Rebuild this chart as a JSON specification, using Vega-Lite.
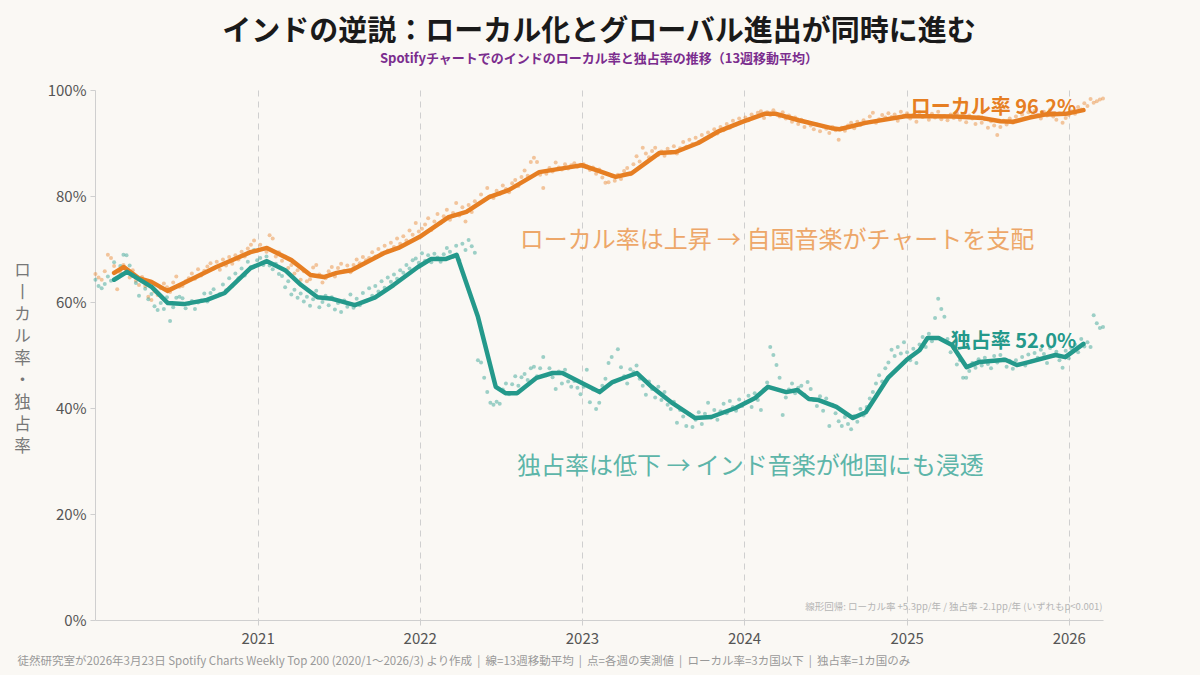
{
"$schema": "https://vega.github.io/schema/vega-lite/v6.json",
"width": 1008, "height": 530,
"autosize": {"type": "none"},
"padding": {"left": 95, "top": 90, "right": 97, "bottom": 55},
"background": "#faf8f4",
"config": {"view": {"stroke": null}, "font": "Noto Sans CJK JP"},
"title": {"text": "インドの逆説：ローカル化とグローバル進出が同時に進む", "subtitle": "Spotifyチャートでのインドのローカル率と独占率の推移（13週移動平均）", "anchor": "middle", "font": "Noto Sans CJK JP", "fontSize": 29, "fontWeight": "bold", "color": "#1a1a1a", "subtitleFont": "Noto Sans CJK JP", "subtitleFontSize": 13, "subtitleFontWeight": "bold", "subtitleColor": "#7b2d8e", "offset": 17, "subtitlePadding": 6},
"datasets": {
"w": [
{"d":"2020-01-02","l":65.3,"m":64.2},{"d":"2020-01-09","l":64.6,"m":63.0},{"d":"2020-01-16","l":64.2,"m":62.6},{"d":"2020-01-23","l":65.8,"m":63.4},{"d":"2020-01-30","l":68.9,"m":64.8},{"d":"2020-02-06","l":68.3,"m":64.0},{"d":"2020-02-13","l":66.8,"m":67.5},{"d":"2020-02-20","l":62.4,"m":64.5},{"d":"2020-02-27","l":65.5,"m":66.8},{"d":"2020-03-05","l":67.0,"m":68.9},{"d":"2020-03-12","l":66.0,"m":68.8},{"d":"2020-03-19","l":64.6,"m":66.9},{"d":"2020-03-26","l":66.0,"m":64.9},{"d":"2020-04-02","l":64.0,"m":63.6},{"d":"2020-04-09","l":63.2,"m":61.2},{"d":"2020-04-16","l":64.7,"m":64.0},{"d":"2020-04-23","l":63.0,"m":62.5},{"d":"2020-04-30","l":61.0,"m":60.5},{"d":"2020-05-07","l":60.4,"m":61.5},{"d":"2020-05-14","l":62.0,"m":59.2},{"d":"2020-05-21","l":61.3,"m":58.5},{"d":"2020-05-28","l":62.6,"m":59.8},{"d":"2020-06-04","l":63.5,"m":58.7},{"d":"2020-06-11","l":62.8,"m":60.9},{"d":"2020-06-18","l":61.9,"m":56.4},{"d":"2020-06-25","l":63.7,"m":59.0},{"d":"2020-07-02","l":64.8,"m":60.8},{"d":"2020-07-09","l":62.9,"m":61.0},{"d":"2020-07-16","l":63.0,"m":60.7},{"d":"2020-07-23","l":63.9,"m":58.8},{"d":"2020-07-30","l":64.5,"m":59.6},{"d":"2020-08-06","l":65.4,"m":60.2},{"d":"2020-08-13","l":64.4,"m":58.7},{"d":"2020-08-20","l":66.2,"m":59.9},{"d":"2020-08-27","l":65.0,"m":60.3},{"d":"2020-09-03","l":65.9,"m":61.6},{"d":"2020-09-10","l":66.7,"m":60.1},{"d":"2020-09-17","l":67.3,"m":61.7},{"d":"2020-09-24","l":66.3,"m":62.4},{"d":"2020-10-01","l":67.6,"m":61.1},{"d":"2020-10-08","l":66.1,"m":61.5},{"d":"2020-10-15","l":68.0,"m":63.3},{"d":"2020-10-22","l":66.9,"m":62.2},{"d":"2020-10-29","l":68.5,"m":64.5},{"d":"2020-11-05","l":67.2,"m":63.0},{"d":"2020-11-12","l":68.8,"m":65.4},{"d":"2020-11-19","l":68.0,"m":64.5},{"d":"2020-11-26","l":69.5,"m":66.3},{"d":"2020-12-03","l":68.6,"m":65.0},{"d":"2020-12-10","l":70.1,"m":67.6},{"d":"2020-12-17","l":70.8,"m":66.6},{"d":"2020-12-24","l":71.6,"m":69.8},{"d":"2020-12-31","l":69.6,"m":67.9},
{"d":"2021-01-07","l":70.8,"m":68.3},{"d":"2021-01-14","l":70.0,"m":67.0},{"d":"2021-01-21","l":69.5,"m":68.6},{"d":"2021-01-28","l":72.6,"m":66.9},{"d":"2021-02-04","l":72.0,"m":66.2},{"d":"2021-02-11","l":68.6,"m":67.2},{"d":"2021-02-18","l":69.4,"m":65.3},{"d":"2021-02-25","l":67.8,"m":64.9},{"d":"2021-03-04","l":68.6,"m":62.8},{"d":"2021-03-11","l":66.4,"m":63.9},{"d":"2021-03-18","l":67.0,"m":61.4},{"d":"2021-03-25","l":65.4,"m":62.3},{"d":"2021-04-01","l":66.0,"m":60.8},{"d":"2021-04-08","l":64.2,"m":61.6},{"d":"2021-04-15","l":65.8,"m":60.1},{"d":"2021-04-22","l":63.9,"m":61.0},{"d":"2021-04-29","l":64.3,"m":59.3},{"d":"2021-05-06","l":66.5,"m":60.5},{"d":"2021-05-13","l":67.0,"m":62.1},{"d":"2021-05-20","l":65.2,"m":59.0},{"d":"2021-05-27","l":63.7,"m":60.0},{"d":"2021-06-03","l":64.5,"m":61.2},{"d":"2021-06-10","l":65.8,"m":59.4},{"d":"2021-06-17","l":66.6,"m":60.9},{"d":"2021-06-24","l":64.8,"m":58.6},{"d":"2021-07-01","l":66.4,"m":59.8},{"d":"2021-07-08","l":67.2,"m":58.1},{"d":"2021-07-15","l":65.9,"m":60.3},{"d":"2021-07-22","l":66.9,"m":59.1},{"d":"2021-07-29","l":65.6,"m":61.4},{"d":"2021-08-05","l":67.0,"m":58.9},{"d":"2021-08-12","l":68.0,"m":60.6},{"d":"2021-08-19","l":67.3,"m":59.4},{"d":"2021-08-26","l":68.5,"m":61.7},{"d":"2021-09-02","l":67.9,"m":60.2},{"d":"2021-09-09","l":68.3,"m":62.6},{"d":"2021-09-16","l":69.4,"m":61.2},{"d":"2021-09-23","l":68.6,"m":63.0},{"d":"2021-09-30","l":70.0,"m":62.0},{"d":"2021-10-07","l":69.2,"m":63.9},{"d":"2021-10-14","l":70.6,"m":62.7},{"d":"2021-10-21","l":69.7,"m":64.6},{"d":"2021-10-28","l":71.2,"m":63.8},{"d":"2021-11-04","l":70.4,"m":65.2},{"d":"2021-11-11","l":72.0,"m":64.4},{"d":"2021-11-18","l":71.0,"m":66.0},{"d":"2021-11-25","l":72.4,"m":65.5},{"d":"2021-12-02","l":71.6,"m":67.0},{"d":"2021-12-09","l":73.5,"m":66.3},{"d":"2021-12-16","l":72.7,"m":67.9},{"d":"2021-12-23","l":74.9,"m":68.2},{"d":"2021-12-30","l":73.3,"m":67.4},
{"d":"2022-01-06","l":73.8,"m":69.2},{"d":"2022-01-13","l":74.6,"m":67.8},{"d":"2022-01-20","l":75.8,"m":68.8},{"d":"2022-01-27","l":73.6,"m":67.5},{"d":"2022-02-03","l":75.2,"m":69.1},{"d":"2022-02-10","l":76.6,"m":68.4},{"d":"2022-02-17","l":74.9,"m":67.6},{"d":"2022-02-24","l":76.2,"m":69.0},{"d":"2022-03-03","l":77.4,"m":70.2},{"d":"2022-03-10","l":75.5,"m":69.5},{"d":"2022-03-17","l":76.8,"m":68.5},{"d":"2022-03-24","l":78.7,"m":70.6},{"d":"2022-03-31","l":76.3,"m":67.9},{"d":"2022-04-07","l":77.9,"m":71.0},{"d":"2022-04-14","l":75.2,"m":69.8},{"d":"2022-04-21","l":78.3,"m":71.7},{"d":"2022-04-28","l":77.0,"m":70.5},{"d":"2022-05-05","l":79.0,"m":69.3},{"d":"2022-05-12","l":78.5,"m":49.0},{"d":"2022-05-19","l":80.3,"m":48.6},{"d":"2022-05-26","l":79.2,"m":45.7},{"d":"2022-06-02","l":81.5,"m":43.0},{"d":"2022-06-09","l":80.0,"m":41.0},{"d":"2022-06-16","l":79.6,"m":40.6},{"d":"2022-06-23","l":81.0,"m":41.2},{"d":"2022-06-30","l":80.4,"m":40.8},{"d":"2022-07-07","l":82.0,"m":43.5},{"d":"2022-07-14","l":81.3,"m":44.6},{"d":"2022-07-21","l":80.7,"m":42.6},{"d":"2022-07-28","l":82.4,"m":44.5},{"d":"2022-08-04","l":83.0,"m":46.0},{"d":"2022-08-11","l":81.9,"m":44.2},{"d":"2022-08-18","l":83.6,"m":45.8},{"d":"2022-08-25","l":84.8,"m":46.4},{"d":"2022-09-01","l":83.8,"m":45.3},{"d":"2022-09-08","l":86.4,"m":47.5},{"d":"2022-09-15","l":87.2,"m":47.8},{"d":"2022-09-22","l":86.4,"m":46.0},{"d":"2022-09-29","l":84.0,"m":47.5},{"d":"2022-10-06","l":81.5,"m":49.6},{"d":"2022-10-13","l":84.2,"m":46.2},{"d":"2022-10-20","l":85.3,"m":47.5},{"d":"2022-10-27","l":84.6,"m":45.8},{"d":"2022-11-03","l":86.3,"m":43.6},{"d":"2022-11-10","l":85.4,"m":46.9},{"d":"2022-11-17","l":85.0,"m":44.6},{"d":"2022-11-24","l":86.0,"m":47.2},{"d":"2022-12-01","l":85.2,"m":45.0},{"d":"2022-12-08","l":85.8,"m":44.0},{"d":"2022-12-15","l":86.2,"m":45.1},{"d":"2022-12-22","l":85.5,"m":43.8},{"d":"2022-12-29","l":85.9,"m":42.6},
{"d":"2023-01-05","l":86.0,"m":44.0},{"d":"2023-01-12","l":85.6,"m":47.2},{"d":"2023-01-19","l":84.9,"m":41.1},{"d":"2023-01-26","l":85.4,"m":43.5},{"d":"2023-02-02","l":84.2,"m":39.8},{"d":"2023-02-09","l":85.0,"m":41.0},{"d":"2023-02-16","l":83.5,"m":44.2},{"d":"2023-02-23","l":82.5,"m":45.5},{"d":"2023-03-02","l":82.6,"m":48.5},{"d":"2023-03-09","l":83.8,"m":49.6},{"d":"2023-03-16","l":82.9,"m":45.0},{"d":"2023-03-23","l":84.0,"m":51.1},{"d":"2023-03-30","l":83.2,"m":47.7},{"d":"2023-04-06","l":84.7,"m":46.0},{"d":"2023-04-13","l":85.3,"m":44.6},{"d":"2023-04-20","l":84.1,"m":47.3},{"d":"2023-04-27","l":86.0,"m":46.8},{"d":"2023-05-04","l":87.5,"m":48.0},{"d":"2023-05-11","l":86.5,"m":45.5},{"d":"2023-05-18","l":89.1,"m":44.2},{"d":"2023-05-25","l":88.0,"m":42.5},{"d":"2023-06-01","l":87.3,"m":45.0},{"d":"2023-06-08","l":88.5,"m":43.6},{"d":"2023-06-15","l":89.1,"m":42.0},{"d":"2023-06-22","l":87.8,"m":44.0},{"d":"2023-06-29","l":88.4,"m":41.5},{"d":"2023-07-06","l":87.6,"m":43.0},{"d":"2023-07-13","l":88.9,"m":40.6},{"d":"2023-07-20","l":88.2,"m":39.8},{"d":"2023-07-27","l":89.4,"m":41.2},{"d":"2023-08-03","l":88.0,"m":37.2},{"d":"2023-08-10","l":89.0,"m":39.6},{"d":"2023-08-17","l":90.2,"m":38.4},{"d":"2023-08-24","l":89.3,"m":36.6},{"d":"2023-08-31","l":90.6,"m":38.8},{"d":"2023-09-07","l":89.8,"m":36.4},{"d":"2023-09-14","l":91.0,"m":37.8},{"d":"2023-09-21","l":90.2,"m":39.2},{"d":"2023-09-28","l":91.5,"m":37.0},{"d":"2023-10-05","l":90.8,"m":38.9},{"d":"2023-10-12","l":92.0,"m":41.0},{"d":"2023-10-19","l":91.3,"m":38.2},{"d":"2023-10-26","l":92.6,"m":39.6},{"d":"2023-11-02","l":91.8,"m":37.8},{"d":"2023-11-09","l":93.0,"m":39.4},{"d":"2023-11-16","l":92.4,"m":40.8},{"d":"2023-11-23","l":93.6,"m":39.0},{"d":"2023-11-30","l":92.9,"m":41.3},{"d":"2023-12-07","l":94.2,"m":40.2},{"d":"2023-12-14","l":93.5,"m":39.5},{"d":"2023-12-21","l":94.6,"m":41.6},{"d":"2023-12-28","l":94.0,"m":40.4},
{"d":"2024-01-04","l":94.8,"m":41.0},{"d":"2024-01-11","l":94.3,"m":42.3},{"d":"2024-01-18","l":95.4,"m":40.2},{"d":"2024-01-25","l":94.9,"m":42.8},{"d":"2024-02-01","l":95.7,"m":41.5},{"d":"2024-02-08","l":96.0,"m":39.6},{"d":"2024-02-15","l":94.7,"m":43.5},{"d":"2024-02-22","l":95.8,"m":44.8},{"d":"2024-02-29","l":95.3,"m":51.5},{"d":"2024-03-07","l":96.2,"m":50.0},{"d":"2024-03-14","l":95.4,"m":48.1},{"d":"2024-03-21","l":95.0,"m":45.7},{"d":"2024-03-28","l":95.8,"m":38.7},{"d":"2024-04-04","l":94.6,"m":42.0},{"d":"2024-04-11","l":95.2,"m":43.5},{"d":"2024-04-18","l":94.0,"m":44.6},{"d":"2024-04-25","l":94.8,"m":42.8},{"d":"2024-05-02","l":93.6,"m":43.8},{"d":"2024-05-09","l":94.4,"m":44.2},{"d":"2024-05-16","l":93.0,"m":42.5},{"d":"2024-05-23","l":93.9,"m":44.9},{"d":"2024-05-30","l":93.3,"m":43.6},{"d":"2024-06-06","l":92.6,"m":41.5},{"d":"2024-06-13","l":93.5,"m":40.4},{"d":"2024-06-20","l":92.2,"m":42.2},{"d":"2024-06-27","l":93.1,"m":39.5},{"d":"2024-07-04","l":92.7,"m":41.8},{"d":"2024-07-11","l":91.9,"m":36.6},{"d":"2024-07-18","l":93.0,"m":40.6},{"d":"2024-07-25","l":92.4,"m":39.0},{"d":"2024-08-01","l":90.6,"m":37.5},{"d":"2024-08-08","l":92.9,"m":36.6},{"d":"2024-08-15","l":92.3,"m":38.3},{"d":"2024-08-22","l":93.3,"m":37.0},{"d":"2024-08-29","l":93.8,"m":36.0},{"d":"2024-09-05","l":92.8,"m":38.5},{"d":"2024-09-12","l":94.0,"m":37.4},{"d":"2024-09-19","l":93.4,"m":39.8},{"d":"2024-09-26","l":94.3,"m":38.6},{"d":"2024-10-03","l":93.8,"m":40.2},{"d":"2024-10-10","l":95.0,"m":41.8},{"d":"2024-10-17","l":95.7,"m":43.0},{"d":"2024-10-24","l":93.8,"m":44.6},{"d":"2024-10-31","l":94.5,"m":46.2},{"d":"2024-11-07","l":95.3,"m":45.0},{"d":"2024-11-14","l":94.8,"m":47.5},{"d":"2024-11-21","l":95.6,"m":48.6},{"d":"2024-11-28","l":94.9,"m":51.0},{"d":"2024-12-05","l":95.4,"m":49.8},{"d":"2024-12-12","l":94.2,"m":51.5},{"d":"2024-12-19","l":95.9,"m":50.3},{"d":"2024-12-26","l":95.2,"m":52.4},
{"d":"2025-01-02","l":95.6,"m":50.5},{"d":"2025-01-09","l":94.6,"m":49.0},{"d":"2025-01-16","l":95.3,"m":51.2},{"d":"2025-01-23","l":94.0,"m":48.5},{"d":"2025-01-30","l":95.8,"m":52.0},{"d":"2025-02-06","l":94.9,"m":53.4},{"d":"2025-02-13","l":95.2,"m":51.5},{"d":"2025-02-20","l":94.4,"m":54.0},{"d":"2025-02-27","l":95.5,"m":52.6},{"d":"2025-03-06","l":94.8,"m":57.0},{"d":"2025-03-13","l":95.9,"m":60.6},{"d":"2025-03-20","l":94.5,"m":58.7},{"d":"2025-03-27","l":95.1,"m":57.2},{"d":"2025-04-03","l":94.3,"m":53.0},{"d":"2025-04-10","l":95.4,"m":50.5},{"d":"2025-04-17","l":94.7,"m":51.8},{"d":"2025-04-24","l":95.6,"m":48.2},{"d":"2025-05-01","l":94.4,"m":49.0},{"d":"2025-05-08","l":95.0,"m":45.7},{"d":"2025-05-15","l":93.9,"m":45.7},{"d":"2025-05-22","l":95.2,"m":47.0},{"d":"2025-05-29","l":94.6,"m":48.5},{"d":"2025-06-05","l":93.6,"m":47.6},{"d":"2025-06-12","l":94.9,"m":49.2},{"d":"2025-06-19","l":93.8,"m":48.0},{"d":"2025-06-26","l":94.5,"m":49.5},{"d":"2025-07-03","l":92.9,"m":48.3},{"d":"2025-07-10","l":94.1,"m":47.5},{"d":"2025-07-17","l":93.3,"m":49.8},{"d":"2025-07-24","l":91.5,"m":48.6},{"d":"2025-07-31","l":93.0,"m":50.0},{"d":"2025-08-07","l":94.2,"m":49.2},{"d":"2025-08-14","l":93.5,"m":47.8},{"d":"2025-08-21","l":94.6,"m":48.9},{"d":"2025-08-28","l":93.8,"m":47.4},{"d":"2025-09-04","l":95.0,"m":49.0},{"d":"2025-09-11","l":94.3,"m":48.2},{"d":"2025-09-18","l":95.4,"m":49.6},{"d":"2025-09-25","l":94.7,"m":48.0},{"d":"2025-10-02","l":95.8,"m":50.1},{"d":"2025-10-09","l":95.0,"m":48.8},{"d":"2025-10-16","l":96.1,"m":50.4},{"d":"2025-10-23","l":95.3,"m":49.5},{"d":"2025-10-30","l":94.6,"m":51.0},{"d":"2025-11-06","l":95.9,"m":50.2},{"d":"2025-11-13","l":95.2,"m":48.5},{"d":"2025-11-20","l":96.3,"m":51.3},{"d":"2025-11-27","l":95.0,"m":49.8},{"d":"2025-12-04","l":94.4,"m":50.6},{"d":"2025-12-11","l":95.6,"m":49.0},{"d":"2025-12-18","l":93.8,"m":47.6},{"d":"2025-12-25","l":94.7,"m":50.8},
{"d":"2026-01-01","l":95.3,"m":49.4},{"d":"2026-01-08","l":96.0,"m":51.2},{"d":"2026-01-15","l":95.5,"m":52.0},{"d":"2026-01-22","l":96.8,"m":50.5},{"d":"2026-01-29","l":96.3,"m":53.0},{"d":"2026-02-05","l":97.5,"m":51.6},{"d":"2026-02-12","l":97.0,"m":52.4},{"d":"2026-02-19","l":98.3,"m":51.5},{"d":"2026-02-26","l":97.6,"m":57.5},{"d":"2026-03-05","l":97.9,"m":56.0},{"d":"2026-03-12","l":98.2,"m":55.1},{"d":"2026-03-19","l":98.4,"m":55.3}
],
"maL": [
{"d":"2020-02-13","v":65.5},{"d":"2020-03-06","v":66.6},{"d":"2020-04-08","v":64.5},{"d":"2020-05-07","v":63.8},{"d":"2020-06-12","v":62.1},{"d":"2020-07-19","v":63.6},{"d":"2020-09-30","v":66.6},{"d":"2020-12-16","v":69.4},{"d":"2021-01-22","v":70.2},{"d":"2021-03-18","v":67.9},{"d":"2021-04-30","v":65.1},{"d":"2021-05-30","v":64.7},{"d":"2021-06-28","v":65.5},{"d":"2021-07-31","v":66.0},{"d":"2021-10-12","v":69.2},{"d":"2021-11-14","v":70.2},{"d":"2022-01-01","v":72.3},{"d":"2022-03-07","v":76.0},{"d":"2022-04-16","v":77.0},{"d":"2022-06-06","v":79.8},{"d":"2022-07-20","v":81.1},{"d":"2022-09-27","v":84.5},{"d":"2022-12-09","v":85.5},{"d":"2023-01-01","v":85.8},{"d":"2023-02-06","v":84.8},{"d":"2023-03-18","v":83.6},{"d":"2023-04-23","v":84.3},{"d":"2023-06-24","v":88.1},{"d":"2023-07-31","v":88.3},{"d":"2023-09-20","v":90.0},{"d":"2023-11-07","v":92.3},{"d":"2023-12-28","v":94.0},{"d":"2024-02-16","v":95.5},{"d":"2024-03-13","v":95.5},{"d":"2024-05-03","v":94.3},{"d":"2024-07-16","v":92.8},{"d":"2024-08-03","v":92.6},{"d":"2024-09-30","v":93.8},{"d":"2025-01-01","v":95.1},{"d":"2025-04-20","v":95.0},{"d":"2025-06-21","v":94.7},{"d":"2025-07-31","v":94.1},{"d":"2025-08-29","v":94.0},{"d":"2025-10-05","v":94.8},{"d":"2025-11-11","v":95.4},{"d":"2025-12-25","v":95.5},{"d":"2026-02-03","v":96.2}
],
"maM": [
{"d":"2020-02-13","v":64.2},{"d":"2020-03-13","v":65.7},{"d":"2020-05-08","v":62.8},{"d":"2020-06-13","v":59.8},{"d":"2020-07-19","v":59.6},{"d":"2020-09-09","v":60.4},{"d":"2020-10-19","v":61.7},{"d":"2020-12-16","v":66.4},{"d":"2021-01-22","v":67.7},{"d":"2021-03-04","v":66.0},{"d":"2021-04-09","v":63.2},{"d":"2021-05-16","v":60.9},{"d":"2021-06-18","v":60.6},{"d":"2021-08-08","v":59.4},{"d":"2021-09-21","v":60.8},{"d":"2021-11-03","v":63.2},{"d":"2021-12-28","v":66.6},{"d":"2022-01-26","v":68.1},{"d":"2022-02-28","v":68.1},{"d":"2022-03-25","v":68.9},{"d":"2022-05-12","v":57.2},{"d":"2022-06-21","v":44.0},{"d":"2022-07-13","v":42.8},{"d":"2022-08-08","v":42.8},{"d":"2022-09-21","v":45.7},{"d":"2022-10-27","v":46.6},{"d":"2022-11-18","v":46.6},{"d":"2023-01-01","v":44.7},{"d":"2023-02-10","v":43.0},{"d":"2023-03-11","v":44.9},{"d":"2023-04-09","v":45.8},{"d":"2023-05-05","v":46.6},{"d":"2023-06-07","v":44.0},{"d":"2023-07-24","v":40.9},{"d":"2023-09-13","v":38.1},{"d":"2023-10-19","v":38.3},{"d":"2023-12-13","v":40.0},{"d":"2024-01-26","v":41.9},{"d":"2024-02-24","v":44.0},{"d":"2024-04-05","v":43.0},{"d":"2024-04-30","v":43.4},{"d":"2024-05-26","v":41.7},{"d":"2024-06-17","v":41.5},{"d":"2024-07-27","v":40.2},{"d":"2024-09-02","v":38.1},{"d":"2024-10-01","v":39.2},{"d":"2024-11-21","v":45.8},{"d":"2025-01-01","v":49.1},{"d":"2025-01-30","v":50.9},{"d":"2025-02-17","v":53.2},{"d":"2025-03-14","v":53.2},{"d":"2025-04-13","v":51.9},{"d":"2025-05-16","v":47.7},{"d":"2025-06-14","v":48.7},{"d":"2025-08-11","v":49.1},{"d":"2025-09-06","v":48.1},{"d":"2025-10-05","v":48.7},{"d":"2025-12-02","v":50.0},{"d":"2025-12-24","v":49.6},{"d":"2026-02-03","v":52.1}
]
},
"encoding": {
"x": {"field": "d", "type": "temporal", "scale": {"type": "utc", "domain": [{"year": 2020, "month": 1, "date": 1, "utc": true}, {"year": 2026, "month": 3, "date": 19, "utc": true}]},
"axis": {"values": [{"year": 2021, "month": 1, "date": 1, "utc": true}, {"year": 2022, "month": 1, "date": 1, "utc": true}, {"year": 2023, "month": 1, "date": 1, "utc": true}, {"year": 2024, "month": 1, "date": 1, "utc": true}, {"year": 2025, "month": 1, "date": 1, "utc": true}, {"year": 2026, "month": 1, "date": 1, "utc": true}], "format": "%Y", "labelFontSize": 15, "labelColor": "#555", "labelPadding": 6, "domainColor": "#cfcfcf", "tickColor": "#cfcfcf", "tickSize": 5, "grid": true, "gridColor": "#cfcfcf", "gridDash": [6, 5], "gridWidth": 1,
"title": "徒然研究室が2026年3月23日 Spotify Charts Weekly Top 200 (2020/1〜2026/3) より作成 \u00a0|\u00a0 線=13週移動平均 \u00a0|\u00a0 点=各週の実測値 \u00a0|\u00a0 ローカル率=3カ国以下 \u00a0|\u00a0 独占率=1カ国のみ", "titleAnchor": "start", "titleAlign": "left", "titleX": -78, "titleY": 41, "titleFontSize": 11.5, "titleFontWeight": "normal", "titleColor": "#999", "titleBaseline": "middle"}},
"y": {"field": "v", "type": "quantitative", "scale": {"domain": [0, 100]},
 "axis": {"values": [0, 20, 40, 60, 80, 100], "labelExpr": "datum.value + '%'", "grid": false, "labelFontSize": 15, "labelColor": "#555", "labelPadding": 4, "domainColor": "#cfcfcf", "tickColor": "#cfcfcf", "tickSize": 5,
 "title": ["ロ", "丨", "カ", "ル", "率", "・", "独", "占", "率"], "titleAngle": 0, "titleX": -73, "titleY": 172, "titleAlign": "center", "titleBaseline": "top", "titleFontSize": 16.5, "titleFontWeight": "normal", "titleColor": "#777", "titleLineHeight": 22}}
},
"layer": [
{"data": {"name": "w"}, "mark": {"type": "circle", "size": 16, "opacity": 0.45, "color": "#e8862e"},
 "encoding": {"y": {"field": "l", "type": "quantitative"}}},
{"data": {"name": "w"}, "mark": {"type": "circle", "size": 16, "opacity": 0.45, "color": "#2a9d8f"},
 "encoding": {"y": {"field": "m", "type": "quantitative"}}},
{"data": {"name": "maL"}, "mark": {"type": "line", "strokeWidth": 4.5, "color": "#e67e22", "strokeJoin": "round", "strokeCap": "round"},
 "encoding": {}},
{"data": {"name": "maM"}, "mark": {"type": "line", "strokeWidth": 4.5, "color": "#24998b", "strokeJoin": "round", "strokeCap": "round"},
 "encoding": {}},
{"data": {"values": [{"d": "2022-08-14", "v": 71.6, "t": "ローカル率は上昇 → 自国音楽がチャートを支配"}]}, "mark": {"type": "text", "align": "left", "baseline": "middle", "fontSize": 24, "color": "#eda769"},
 "encoding": {"text": {"field": "t"}}},
{"data": {"values": [{"d": "2022-08-08", "v": 28.9, "t": "独占率は低下 → インド音楽が他国にも浸透"}]}, "mark": {"type": "text", "align": "left", "baseline": "middle", "fontSize": 24, "color": "#5db5a9"},
 "encoding": {"text": {"field": "t"}}},
{"data": {"values": [{"d": "2026-01-18", "v": 96.6, "t": "ローカル率 96.2%"}]}, "mark": {"type": "text", "align": "right", "baseline": "middle", "fontSize": 20, "fontWeight": "bold", "color": "#e67e22"},
 "encoding": {"text": {"field": "t"}}},
{"data": {"values": [{"d": "2026-01-18", "v": 52.4, "t": "独占率 52.0%"}]}, "mark": {"type": "text", "align": "right", "baseline": "middle", "fontSize": 20, "fontWeight": "bold", "color": "#24998b"},
 "encoding": {"text": {"field": "t"}}},
{"data": {"values": [{"d": "2026-03-18", "v": 2.4, "t": "線形回帰: ローカル率 +5.3pp/年 / 独占率 -2.1pp/年 (いずれもp<0.001)"}]}, "mark": {"type": "text", "align": "right", "baseline": "middle", "fontSize": 9.5, "color": "#b5b5b5"},
 "encoding": {"text": {"field": "t"}}}
]
}
